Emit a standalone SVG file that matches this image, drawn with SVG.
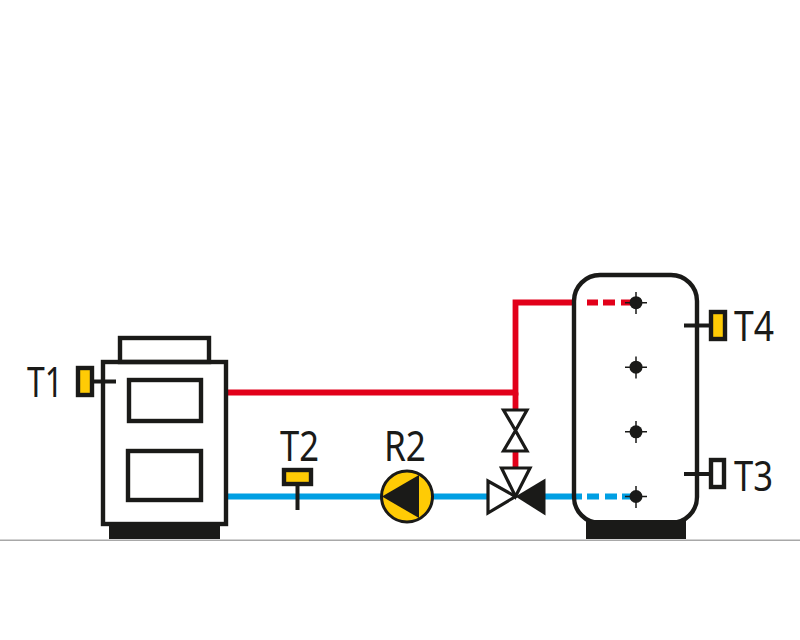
<svg xmlns="http://www.w3.org/2000/svg" width="800" height="640" viewBox="0 0 800 640">
<style>
.o{fill:none;stroke:#1a1a18;stroke-width:4.400}
.k{fill:#1a1a18}
.w{fill:#fff;stroke:#1a1a18;stroke-width:3.200;stroke-linejoin:miter}
.y{fill:#ffcb05;stroke:#1a1a18;stroke-width:4.400}
.s{stroke:#1a1a18;stroke-width:4;fill:none}
.t{stroke:#1a1a18;stroke-width:1.500;fill:none}
.red{stroke:#e2001a;stroke-width:5.800;fill:none}
.blue{stroke:#009fe3;stroke-width:5.800;fill:none}
text{font-family:"Noto Sans","Open Sans",sans-serif;font-size:41.500px;fill:#1a1a18}
</style>
<rect width="800" height="640" fill="#fff"/>
<line x1="0" y1="540.200" x2="800" y2="540.200" stroke="#a8a8a8" stroke-width="1.500"/>
<g id="connectors">
<path class="red" d="M226 392.500H515.500V302.500H572"/>
<path class="red" d="M515.500 392.500V410M515.500 450V470"/>
<path class="red" d="M587 302.500H598M603 302.500H615M621 302.500H632"/>
<path class="blue" d="M226 496.500H490M540 496.500H582"/>
<path class="blue" d="M587 496.500H599M605 496.500H617M622 496.500H632"/>
</g>
<g id="boiler">
<rect class="o" x="120" y="338" width="89" height="24"/>
<rect class="o" x="103" y="362" width="123" height="162"/>
<rect class="o" x="129" y="380" width="72" height="41"/>
<rect class="o" x="128" y="451" width="73" height="49"/>
<rect class="k" x="109" y="522" width="111" height="17"/>
</g>
<g id="tank">
<rect class="o" x="574" y="275" width="123" height="248" rx="26"/>
<rect class="k" x="586" y="520" width="100" height="19"/>
</g>
<g id="port1"><circle class="k" cx="636" cy="302.700" r="6.500"/><path class="t" d="M625 302.700H647M636 292V314"/></g>
<g id="port2"><circle class="k" cx="636" cy="367.200" r="6.500"/><path class="t" d="M625 367.200H647M636 356.500V378.500"/></g>
<g id="port3"><circle class="k" cx="636" cy="431.800" r="6.500"/><path class="t" d="M625 431.800H647M636 421V443"/></g>
<g id="port4"><circle class="k" cx="636" cy="496.500" r="6.500"/><path class="t" d="M625 496.500H647M636 486V508"/></g>
<g id="T1-sensor"><rect class="y" x="78" y="368" width="14" height="27"/><line class="s" x1="92" y1="381.500" x2="116" y2="381.500"/></g>
<text id="T1" x="27" y="396.500" textLength="36" lengthAdjust="spacingAndGlyphs">T1</text>
<g id="T2-sensor"><rect class="y" x="284" y="470" width="27" height="14"/><line class="s" x1="297.500" y1="484" x2="297.500" y2="510"/></g>
<text id="T2" x="280" y="460.500" textLength="39" lengthAdjust="spacingAndGlyphs">T2</text>
<g id="R2-pump"><circle cx="407" cy="496.500" r="25.500" fill="#ffcb05" stroke="#1a1a18" stroke-width="3"/><path class="k" d="M382 496.500L419 475V518Z"/></g>
<text id="R2" x="384" y="460.500" textLength="42" lengthAdjust="spacingAndGlyphs">R2</text>
<g id="valve-upper"><path class="w" d="M503.500 410H527L515.500 430.500L527 451H503.500L515.500 430.500Z"/></g>
<g id="valve-three-way">
<path class="w" d="M501.500 468H530L515.500 496.500Z"/>
<path class="w" d="M488 481V513L515.500 496.500Z"/>
<path class="k" d="M545.500 478.500V515.500L515.500 496.500Z"/>
</g>
<g id="T4-sensor"><rect class="y" x="711" y="312" width="14" height="27"/><line class="s" x1="684" y1="325.500" x2="711" y2="325.500"/></g>
<text id="T4" x="734" y="340.500" textLength="40" lengthAdjust="spacingAndGlyphs">T4</text>
<g id="T3-sensor"><rect class="o" x="711" y="460" width="13" height="27" style="fill:#fff"/><line class="s" x1="684" y1="474" x2="711" y2="474"/></g>
<text id="T3" x="734" y="490.500" textLength="39" lengthAdjust="spacingAndGlyphs">T3</text>
</svg>
